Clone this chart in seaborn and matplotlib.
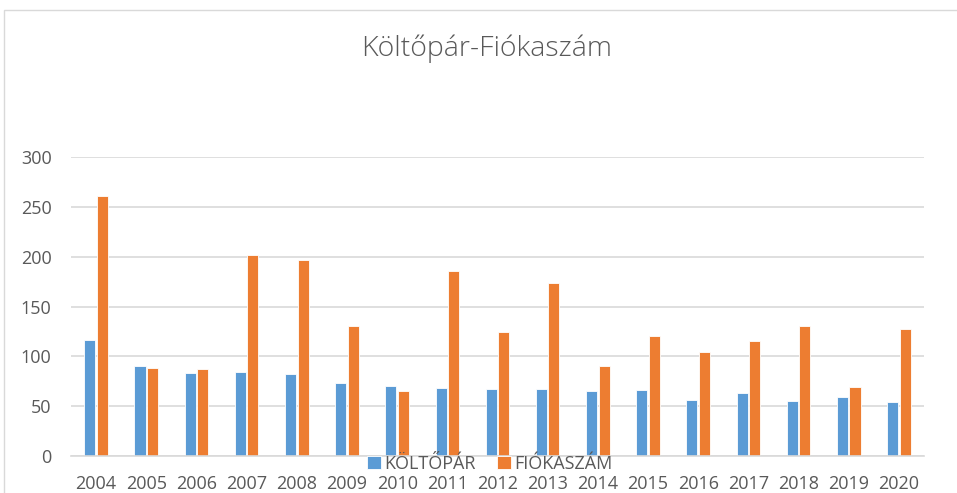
import pandas as pd
import seaborn as sns
import matplotlib.pyplot as plt
from matplotlib.patches import Rectangle

# Data ########################################################################

years = [2004, 2005, 2006, 2007, 2008, 2009, 2010, 2011, 2012,
         2013, 2014, 2015, 2016, 2017, 2018, 2019, 2020]
koltopar = [116, 90, 83, 84, 82, 73, 70, 68, 67, 67, 65, 66, 56, 63, 55, 59, 54]
fiokaszam = [261, 88, 87, 202, 197, 130, 65, 186, 124, 174, 90, 120, 104, 115, 130, 69, 127]
series = ['KÖLTŐPÁR', 'FIÓKASZÁM']
title = 'Költőpár-Fiókaszám'

df = pd.DataFrame({'ev': [str(y) for y in years] * 2,
                   'ertek': koltopar + fiokaszam,
                   'sor': [series[0]] * len(years) + [series[1]] * len(years)})

# Plot ########################################################################

sns.set_style('white')
plt.rcParams['font.family'] = ['Open Sans', 'DejaVu Sans']
grey = '#595959'

fig = plt.figure(figsize=(9.57, 4.93), dpi=100)
ax = fig.add_axes([0.0742, 0.075, 0.8913, 0.6065])

sns.barplot(data=df, x='ev', y='ertek', hue='sor', hue_order=series,
            palette=['#5B9BD5', '#ED7D31'], saturation=1, width=0.5, gap=0.12,
            edgecolor='white', linewidth=0.6, ax=ax)

ax.set_ylim(0, 300)
ax.set_yticks(range(0, 301, 50))
ax.yaxis.grid(True, color='#D9D9D9', linewidth=1.2)
ax.set_axisbelow(True)
ax.set_xlabel('')
ax.set_ylabel('')
for s in ['top', 'right', 'left']:
    ax.spines[s].set_visible(False)
ax.spines['bottom'].set_color('#D9D9D9')
ax.spines['bottom'].set_linewidth(1.2)
ax.tick_params(axis='both', length=0, labelsize=13, labelcolor=grey)
ax.tick_params(axis='x', pad=14)
ax.tick_params(axis='y', pad=14)

ax.legend(loc='center', bbox_to_anchor=(0.512, 1 - 464 / 493),
          bbox_transform=fig.transFigure, ncol=2, frameon=False,
          fontsize=13, labelcolor=grey, handlelength=0.75, handleheight=0.75,
          handletextpad=0.2, columnspacing=1.2, borderpad=0)

fig.text(0.509, 1 - 49 / 493, title, ha='center', va='center',
         fontsize=20.5, color=grey, fontweight='light')

# chart area border
fig.patches.append(Rectangle((4 / 957, -0.1), 1.2, 0.1 + 1 - 10 / 493,
                             transform=fig.transFigure, fill=False,
                             edgecolor='#D9D9D9', linewidth=1))

fig.savefig('out.png', dpi=100)
